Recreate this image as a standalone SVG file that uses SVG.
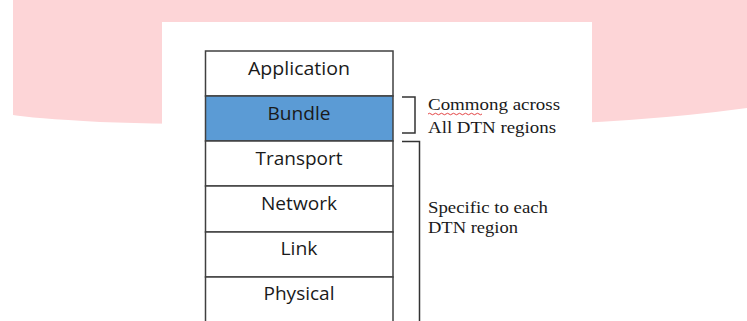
<svg xmlns="http://www.w3.org/2000/svg" width="747" height="321" viewBox="0 0 747 321">
<style>
.layer{fill:#ffffff;stroke:#404040;stroke-width:1.5}
.lbl{font-family:"Open Sans","Noto Sans",sans-serif;font-size:17.5px;fill:#1a1a1a;text-anchor:middle}
.note{font-family:"Liberation Serif",serif;font-size:16px;fill:#1a1a1a}
.br{fill:none;stroke:#333;stroke-width:1.5}
</style>
<rect width="747" height="321" fill="#ffffff"/>
<path d="M13,0 H747 V108 Q600,128 420,125 Q220,126 100,122 Q30,118 13,115 Z" fill="#fdd5d7"/>
<rect x="162" y="22" width="430" height="299" fill="#ffffff"/>
<g id="application"><rect class="layer" x="205.5" y="51" width="187.5" height="45"/><text class="lbl" x="299" y="75" textLength="102" lengthAdjust="spacingAndGlyphs">Application</text></g>
<g id="bundle"><rect class="layer" x="205.5" y="96" width="187.5" height="45" style="fill:#5b9bd5"/><text class="lbl" x="299" y="120" textLength="63" lengthAdjust="spacingAndGlyphs">Bundle</text></g>
<g id="transport"><rect class="layer" x="205.5" y="141" width="187.5" height="45"/><text class="lbl" x="299" y="165" textLength="87" lengthAdjust="spacingAndGlyphs">Transport</text></g>
<g id="network"><rect class="layer" x="205.5" y="186" width="187.5" height="46"/><text class="lbl" x="299" y="210" textLength="76" lengthAdjust="spacingAndGlyphs">Network</text></g>
<g id="link"><rect class="layer" x="205.5" y="232" width="187.5" height="45"/><text class="lbl" x="299" y="255" textLength="37" lengthAdjust="spacingAndGlyphs">Link</text></g>
<g id="physical"><rect class="layer" x="205.5" y="277" width="187.5" height="50"/><text class="lbl" x="299" y="300" textLength="71" lengthAdjust="spacingAndGlyphs">Physical</text></g>
<g id="connectors">
<path class="br" d="M402,97 H415 V133 H402"/>
<path class="br" d="M402,141.5 H419.5 V321"/>
</g>
<g id="note-common">
<text class="note" x="428" y="110" textLength="132" lengthAdjust="spacingAndGlyphs">Commong across</text>
<text class="note" x="428" y="133" textLength="128" lengthAdjust="spacingAndGlyphs">All DTN regions</text>
<path d="M428,114 q1.5,-1.5 3,0 t3,0 t3,0 t3,0 t3,0 t3,0 t3,0 t3,0 t3,0 t3,0 t3,0 t3,0 t3,0 t3,0 t3,0 t3,0 t3,0 t3,0" fill="none" stroke="#e03030" stroke-width="0.9"/>
</g>
<g id="note-specific">
<text class="note" x="428" y="213" textLength="120" lengthAdjust="spacingAndGlyphs">Specific to each</text>
<text class="note" x="428" y="233" textLength="90" lengthAdjust="spacingAndGlyphs">DTN region</text>
</g>
</svg>
